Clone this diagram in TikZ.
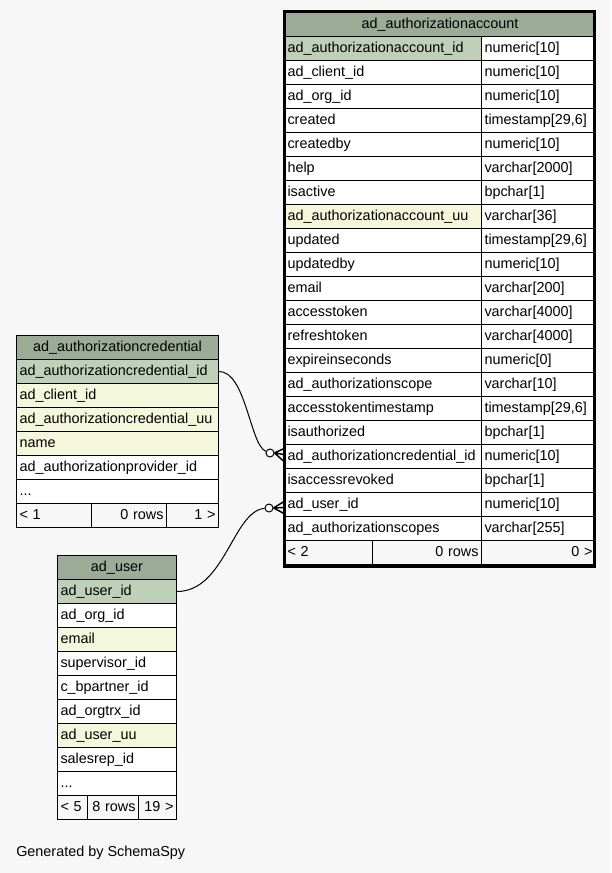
\documentclass[tikz,border=0pt]{standalone}
\usepackage{fontspec}
\setmainfont{Liberation Sans}
\usetikzlibrary{calc}

\definecolor{pagebg}{HTML}{F7F7F7}
\definecolor{headbg}{HTML}{9BAB96}
\definecolor{keybg}{HTML}{BED1B8}
\definecolor{idxbg}{HTML}{F4F7DA}

\begin{document}
\begin{tikzpicture}[
  x=0.75pt, y=-0.75pt,
  every node/.style={font=\fontsize{10.8}{13}\selectfont},
  cell/.style={draw=black, line width=0.75pt, anchor=north west,
    inner xsep=2.25pt, inner ysep=0pt, minimum height=18pt,
    text height=8pt, text depth=2.5pt, align=left},
  head/.style={cell, fill=headbg, align=center},
  foot/.style={cell, fill=pagebg},
  dot/.style={circle, draw=black, line width=0.75pt, fill=white,
    inner sep=0pt, minimum size=6pt},
  link/.style={draw=black, line width=0.75pt},
  crow/.style={draw=black, line width=1.1pt}
]
  \useasboundingbox[fill=pagebg] (0,0) rectangle (611,873);

  \node[head, minimum width=233.25pt] (acct-head) at (284,12) {ad\_authorizationaccount};
  \foreach \col/\type/\tint [count=\i from 0] in {
      ad\_authorizationaccount\_id/numeric[10]/keybg,
      ad\_client\_id/numeric[10]/white,
      ad\_org\_id/numeric[10]/white,
      created/{timestamp[29,6]}/white,
      createdby/numeric[10]/white,
      help/varchar[2000]/white,
      isactive/bpchar[1]/white,
      ad\_authorizationaccount\_uu/varchar[36]/idxbg,
      updated/{timestamp[29,6]}/white,
      updatedby/numeric[10]/white,
      email/varchar[200]/white,
      accesstoken/varchar[4000]/white,
      refreshtoken/varchar[4000]/white,
      expireinseconds/numeric[0]/white,
      ad\_authorizationscope/varchar[10]/white,
      accesstokentimestamp/{timestamp[29,6]}/white,
      isauthorized/bpchar[1]/white,
      ad\_authorizationcredential\_id/numeric[10]/white,
      isaccessrevoked/bpchar[1]/white,
      ad\_user\_id/numeric[10]/white,
      ad\_authorizationscopes/varchar[255]/white} {
    \node[cell, fill=\tint, text width=143.25pt] (acct-\i) at (284,{36+24*\i}) {\col};
    \node[cell, fill=white, text width=81pt] (acct-type-\i) at (481,{36+24*\i}) {\type};
  }
  \node[foot, text width=61.5pt] (acct-prev) at (284,540) {< 2};
  \node[foot, text width=77.25pt, align=right] (acct-rows) at (372,540) {0 rows};
  \node[foot, text width=81pt, align=right] (acct-next) at (481,540) {0 >};
  \draw[line width=2.25pt] (284.5,11.5) rectangle (594.5,566);

  \node[head, minimum width=151.5pt] (cred-head) at (16,335) {ad\_authorizationcredential};
  \foreach \col/\tint [count=\i from 0] in {
      ad\_authorizationcredential\_id/keybg,
      ad\_client\_id/idxbg,
      ad\_authorizationcredential\_uu/idxbg,
      name/idxbg,
      ad\_authorizationprovider\_id/white,
      {.{}.{}.}/white} {
    \node[cell, fill=\tint, text width=147pt] (cred-\i) at (16,{359+24*\i}) {\col};
  }
  \node[foot, text width=51.75pt] (cred-prev) at (16,503) {< 1};
  \node[foot, text width=51.75pt, align=right] (cred-rows) at (91,503) {0 rows};
  \node[foot, text width=34.5pt, align=right] (cred-next) at (166,503) {1 >};

  \node[head, minimum width=89.25pt] (user-head) at (57,555) {ad\_user};
  \foreach \col/\tint [count=\i from 0] in {
      ad\_user\_id/keybg,
      ad\_org\_id/white,
      email/idxbg,
      supervisor\_id/white,
      c\_bpartner\_id/white,
      ad\_orgtrx\_id/white,
      ad\_user\_uu/idxbg,
      salesrep\_id/white,
      {.{}.{}.}/white} {
    \node[cell, fill=\tint, text width=84.75pt] (user-\i) at (57,{579+24*\i}) {\col};
  }
  \node[foot, text width=18pt] (user-prev) at (57,795) {< 5};
  \node[foot, text width=33.75pt, align=right] (user-rows) at (87,795) {8 rows};
  \node[foot, text width=24pt, align=right] (user-next) at (138,795) {19 >};

  \node[dot] (dot-cred) at (270,453) {};
  \node[dot] (dot-user) at (269,508) {};

  \draw[link] (cred-0.east) .. controls +(27,0) and +(-20,-8) .. (dot-cred);
  \draw[crow] (dot-cred.east) -- ($(acct-17.west)+(0,-8)$)
              (dot-cred.east) -- ($(acct-17.west)+(0,-2)$)
              (dot-cred.east) -- ($(acct-17.west)+(0,5)$);

  \draw[link] (user-0.east) .. controls +(48,0) and +(-36,3) .. (dot-user);
  \draw[crow] (dot-user.east) -- ($(acct-19.west)+(0,-3)$)
              (dot-user.east) -- ($(acct-19.west)+(0,3)$)
              (dot-user.east) -- ($(acct-19.west)+(0,9)$);

  \node[anchor=west, inner sep=0pt] (credit) at (16,853) {Generated by SchemaSpy};
\end{tikzpicture}
\end{document}
